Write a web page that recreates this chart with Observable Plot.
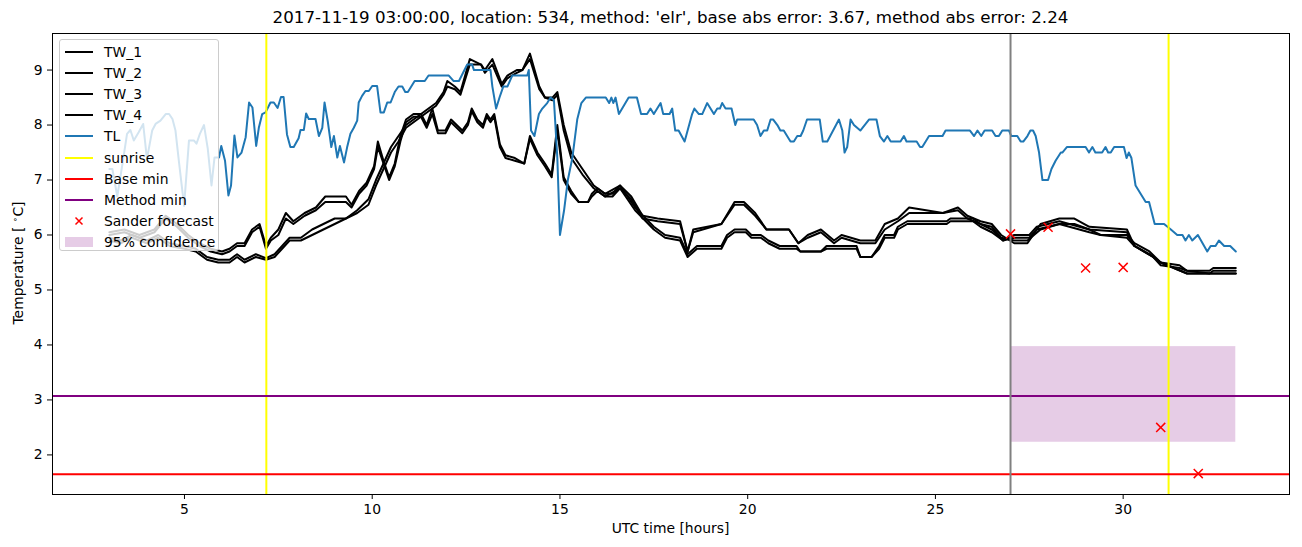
<!DOCTYPE html>
<html><head><meta charset="utf-8">
<script src="https://cdn.jsdelivr.net/npm/d3@7"></script>
<script src="https://cdn.jsdelivr.net/npm/@observablehq/plot@0.6"></script>
<style>
body{margin:0;background:#fff;font-family:"DejaVu Sans",sans-serif;color:#000;}
#wrap{position:relative;width:1302px;height:547px;overflow:hidden;}
#title{position:absolute;left:52px;width:1237px;top:7px;text-align:center;font-size:16.7px;white-space:nowrap;}
#xlabel{position:absolute;left:52px;width:1237px;top:520px;text-align:center;font-size:13.9px;}
#ylabel{position:absolute;left:18px;top:263px;font-size:13.9px;white-space:nowrap;transform:translate(-50%,-50%) rotate(-90deg);}
#legend{position:absolute;left:59px;top:39px;width:160px;height:212px;background:rgba(255,255,255,0.8);border:1px solid #cccccc;border-radius:3px;box-sizing:border-box;}
#legend .row{position:absolute;left:0;height:20px;font-size:13.9px;line-height:20px;}
#legend .row span{position:absolute;left:44px;white-space:nowrap;}
#legend svg{position:absolute;left:4px;top:0;}
</style></head><body>
<div id="wrap"><div id="chart"></div>
<div id="title">2017-11-19 03:00:00, location: 534, method: 'elr', base abs error: 3.67, method abs error: 2.24</div>
<div id="xlabel">UTC time [hours]</div>
<div id="ylabel">Temperature [ <sup style="font-size:0.65em">∘</sup>C]</div>
<div id="legend"></div>
</div>
<script>
// ---- data (hours, °C) ----
const TL = [[3.0,7.2],[3.08,7.2],[3.21,6.7],[3.35,7.3],[3.47,7.84],[3.56,7.91],[3.65,7.72],[3.78,7.87],[3.9,8.02],[4.0,7.38],[4.14,7.9],[4.23,8.02],[4.36,8.08],[4.5,8.2],[4.59,8.2],[4.68,8.11],[4.76,7.9],[4.85,7.35],[4.99,6.53],[5.12,7.72],[5.25,7.72],[5.32,7.66],[5.41,7.84],[5.52,8.0],[5.62,7.57],[5.72,6.9],[5.8,7.41],[5.92,7.41],[5.98,7.62],
[6.08,7.35],[6.17,6.72],[6.24,6.9],[6.33,7.81],[6.41,7.41],[6.52,7.5],[6.63,7.78],[6.72,8.41],[6.81,8.32],[6.91,7.62],[6.98,7.95],[7.07,8.2],[7.16,8.23],[7.29,8.41],[7.38,8.41],[7.48,8.31],[7.57,8.51],[7.64,8.51],[7.73,7.83],[7.82,7.6],[7.91,7.6],[8.04,7.76],[8.09,7.91],[8.18,7.91],[8.24,8.21],[8.31,8.11],[8.49,8.11],[8.58,7.8],[8.67,7.95],[8.73,8.41],[8.82,8.05],[8.91,7.6],[8.98,7.8],[9.07,7.41],[9.14,7.62],[9.25,7.32],[9.33,7.59],[9.42,7.84],[9.51,7.95],[9.6,8.08],[9.64,8.41],[9.73,8.53],[9.82,8.62],[9.91,8.62],[10.0,8.71],[10.13,8.71],[10.22,8.23],[10.31,8.23],[10.4,8.41],[10.49,8.41],[10.6,8.6],[10.7,8.7],[10.8,8.7],[10.88,8.6],[10.95,8.6],[11.04,8.7],[11.13,8.8],[11.4,8.8],[11.5,8.9],[12.04,8.9],[12.17,8.8],[12.31,8.8],[12.53,9.1],[12.66,9.1],[12.71,9.0],[13.15,9.0],[13.2,8.7],[13.3,8.3],[13.39,8.5],[13.49,8.7],[13.6,8.7],[13.73,8.9],[14.13,8.9],[14.17,9.0],[14.23,7.9],[14.32,7.8],[14.44,8.2],[14.53,8.3],[14.66,8.4],[14.75,8.5],[14.84,8.45],[14.93,7.4],[15.0,6.0],[15.11,6.45],[15.21,7.0],[15.33,7.4],[15.46,8.1],[15.57,8.4],[15.69,8.5],[16.22,8.5],[16.31,8.4],[16.37,8.5],[16.42,8.4],[16.48,8.5],[16.57,8.2],[16.7,8.35],[16.83,8.5],[17.05,8.5],[17.16,8.2],[17.32,8.2],[17.41,8.3],[17.5,8.2],[17.68,8.4],[17.75,8.2],[17.92,8.2],[17.99,8.3],[18.07,7.9],[18.16,7.9],[18.32,7.7],[18.52,8.2],[18.58,8.3],[18.7,8.2],[18.79,8.2],[18.92,8.4],[19.01,8.3],[19.1,8.2],[19.19,8.3],[19.26,8.3],[19.32,8.4],[19.41,8.3],[19.57,8.3],[19.67,8.0],[19.72,8.1],[20.16,8.1],[20.25,8.0],[20.34,7.8],[20.43,7.9],[20.52,7.9],[20.61,8.1],[20.68,8.1],[20.79,8.0],[20.87,7.9],[20.96,7.9],[21.05,7.8],[21.14,7.7],[21.23,7.7],[21.32,7.8],[21.41,7.8],[21.48,7.9],[21.58,8.1],[21.92,8.1],[22.0,7.7],[22.12,7.7],[22.43,8.1],[22.52,7.9],[22.58,7.5],[22.65,7.6],[22.74,8.1],[22.83,8.0],[23.0,7.9],[23.23,8.1],[23.43,8.1],[23.52,7.8],[23.63,7.7],[23.72,7.8],[23.81,7.7],[24.07,7.7],[24.16,7.8],[24.23,7.7],[24.5,7.7],[24.59,7.6],[24.65,7.6],[24.83,7.8],[25.19,7.8],[25.27,7.9],[25.92,7.9],[26.03,7.8],[26.12,7.9],[26.22,7.8],[26.31,7.9],[26.51,7.9],[26.6,7.8],[26.69,7.8],[26.78,7.9],[26.96,7.9],[27.02,7.8],[27.18,7.8],[27.27,7.7],[27.34,7.7],[27.45,7.8],[27.53,7.9],[27.6,7.9],[27.67,7.8],[27.76,7.5],[27.85,7.0],[28.0,7.0],[28.09,7.2],[28.2,7.35],[28.34,7.5],[28.38,7.5],[28.5,7.6],[29.0,7.6],[29.09,7.5],[29.18,7.6],[29.26,7.5],[29.44,7.5],[29.53,7.6],[29.6,7.5],[29.67,7.5],[29.76,7.6],[30.02,7.6],[30.09,7.4],[30.15,7.5],[30.22,7.4],[30.33,6.9],[30.51,6.7],[30.6,6.6],[30.69,6.6],[30.84,6.2],[31.09,6.2],[31.27,6.1],[31.44,6.0],[31.58,6.0],[31.66,5.9],[31.75,6.0],[31.84,5.9],[31.99,6.0],[32.24,5.7],[32.33,5.8],[32.46,5.8],[32.55,5.9],[32.69,5.8],[32.85,5.8],[33.0,5.7]];

const TW_1 = [[3.0,5.95],[3.3,5.9],[3.6,6.0],[4.0,5.9],[4.3,6.0],[4.6,5.85],[5.0,5.8],[5.3,5.75],[5.6,5.6],[5.9,5.55],[6.2,5.55],[6.4,5.65],[6.6,5.55],[6.9,5.65],[7.17,5.58],[7.4,5.65],[7.6,5.8],[7.8,5.95],[8.1,5.95],[8.4,6.1],[8.7,6.2],[9.0,6.3],[9.3,6.3],[9.6,6.45],[9.9,6.65],[10.1,7.0],[10.3,7.3],[10.5,7.6],[10.7,7.8],[10.9,8.0],[11.1,8.1],[11.3,8.2],[11.5,8.3],[11.7,8.4],[11.9,8.6],[12.0,8.8],[12.2,8.7],[12.35,8.6],[12.6,9.2],[12.9,9.1],[13.0,9.0],[13.2,9.2],[13.45,8.75],[13.6,8.9],[13.85,9.0],[14.0,9.0],[14.2,9.3],[14.45,8.7],[14.6,8.5],[14.8,8.5],[14.93,8.6],[15.1,8.0],[15.3,7.5],[15.6,7.2],[15.9,6.9],[16.2,6.75],[16.6,6.9],[16.9,6.7],[17.2,6.35],[17.6,6.3],[18.2,6.25],[18.4,5.7],[18.55,6.1],[19.3,6.2],[19.65,6.6],[19.9,6.6],[20.2,6.4],[20.5,6.1],[21.1,6.1],[21.35,5.85],[21.6,6.0],[21.95,6.1],[22.3,5.9],[22.5,6.0],[23.0,5.9],[23.4,5.9],[23.65,6.2],[24.0,6.3],[24.3,6.5],[25.2,6.4],[25.6,6.5],[25.85,6.35],[26.2,6.25],[26.5,6.2],[26.75,6.0],[27.1,5.85],[27.45,5.85],[27.8,6.2],[28.3,6.3],[28.7,6.3],[29.1,6.15],[30.1,6.1],[30.3,5.8],[30.8,5.6],[31.0,5.5],[31.5,5.45],[31.7,5.35],[32.3,5.35],[32.4,5.4],[33.0,5.4]];

const TW_2 = [[3.0,5.9],[3.3,5.85],[3.6,5.95],[4.0,5.85],[4.3,5.95],[4.6,5.8],[5.0,5.75],[5.3,5.7],[5.6,5.55],[5.9,5.5],[6.2,5.5],[6.4,5.6],[6.6,5.5],[6.9,5.6],[7.17,5.55],[7.4,5.6],[7.6,5.75],[7.8,5.9],[8.1,5.9],[8.4,6.0],[8.7,6.1],[9.0,6.2],[9.3,6.3],[9.6,6.4],[9.9,6.55],[10.1,6.9],[10.3,7.2],[10.5,7.5],[10.7,7.7],[10.9,7.95],[11.1,8.05],[11.3,8.15],[11.5,8.25],[11.7,8.35],[11.9,8.55],[12.0,8.7],[12.2,8.65],[12.35,8.55],[12.6,9.1],[12.9,9.1],[13.0,8.95],[13.2,9.1],[13.45,8.7],[13.6,8.85],[13.85,8.95],[14.0,9.0],[14.2,9.2],[14.45,8.65],[14.6,8.5],[14.8,8.45],[14.93,8.55],[15.1,7.9],[15.3,7.4],[15.6,7.1],[15.9,6.85],[16.2,6.7],[16.6,6.85],[16.9,6.65],[17.2,6.3],[17.6,6.25],[18.2,6.2],[18.4,5.7],[18.55,6.05],[19.3,6.2],[19.65,6.55],[19.9,6.55],[20.2,6.35],[20.5,6.1],[21.1,6.1],[21.35,5.85],[21.6,5.95],[21.95,6.05],[22.3,5.85],[22.5,5.95],[23.0,5.85],[23.4,5.85],[23.65,6.1],[24.0,6.25],[24.3,6.4],[25.2,6.4],[25.6,6.45],[25.85,6.3],[26.2,6.2],[26.5,6.15],[26.75,5.95],[27.1,5.9],[27.45,5.9],[27.8,6.1],[28.3,6.2],[28.7,6.2],[29.1,6.1],[30.1,6.05],[30.3,5.8],[30.8,5.6],[31.0,5.45],[31.5,5.4],[31.7,5.35],[32.3,5.3],[32.4,5.35],[33.0,5.35]];

const TW_3 = [[3.0,6.05],[3.4,6.1],[3.8,6.0],[4.2,6.1],[4.5,6.35],[4.8,6.2],[5.1,6.0],[5.4,5.85],[5.7,5.75],[6.0,5.7],[6.2,5.75],[6.4,5.85],[6.6,5.85],[6.8,6.1],[7.0,6.2],[7.17,5.8],[7.3,5.95],[7.5,6.1],[7.7,6.4],[7.9,6.25],[8.2,6.4],[8.5,6.5],[8.75,6.7],[9.3,6.7],[9.45,6.55],[9.65,6.8],[9.85,6.95],[10.05,7.25],[10.15,7.7],[10.3,7.35],[10.45,7.05],[10.6,7.3],[10.75,7.8],[10.9,8.1],[11.1,8.2],[11.3,8.2],[11.45,8.0],[11.6,8.3],[11.75,7.9],[11.95,7.9],[12.1,8.1],[12.4,7.9],[12.55,8.05],[12.65,8.3],[12.8,8.1],[12.95,8.0],[13.05,8.2],[13.15,8.1],[13.25,8.2],[13.4,7.65],[13.55,7.45],[13.8,7.4],[14.05,7.3],[14.2,7.8],[14.4,7.5],[14.6,7.3],[14.78,7.1],[14.93,8.0],[15.1,7.05],[15.3,6.8],[15.5,6.6],[15.75,6.6],[15.85,6.75],[16.0,6.85],[16.2,6.75],[16.4,6.75],[16.6,6.9],[16.8,6.7],[17.0,6.5],[17.5,6.15],[17.8,6.0],[18.2,5.95],[18.4,5.65],[18.65,5.8],[19.3,5.8],[19.45,6.0],[19.65,6.1],[19.95,6.1],[20.1,6.0],[20.35,6.0],[20.55,5.9],[20.85,5.8],[21.3,5.8],[21.4,5.7],[21.95,5.7],[22.1,5.8],[22.9,5.8],[23.0,5.6],[23.3,5.6],[23.5,5.8],[23.65,6.0],[23.9,6.0],[24.0,6.15],[24.25,6.25],[25.3,6.25],[25.4,6.3],[26.0,6.3],[26.2,6.2],[26.5,6.1],[26.8,5.9],[27.1,6.0],[27.5,6.0],[27.7,6.15],[28.3,6.25],[29.1,6.1],[29.4,6.0],[30.1,6.0],[30.3,5.85],[30.7,5.7],[31.0,5.5],[31.7,5.3],[33.0,5.3]];

const TW_4 = [[3.0,6.0],[3.4,6.05],[3.8,5.95],[4.2,6.05],[4.5,6.3],[4.8,6.15],[5.1,5.95],[5.4,5.8],[5.7,5.7],[6.0,5.65],[6.2,5.7],[6.4,5.8],[6.6,5.8],[6.8,6.05],[7.0,6.15],[7.17,5.75],[7.3,5.9],[7.5,6.0],[7.7,6.3],[7.9,6.2],[8.2,6.35],[8.5,6.45],[8.75,6.6],[9.3,6.6],[9.45,6.5],[9.65,6.75],[9.85,6.9],[10.05,7.2],[10.15,7.6],[10.3,7.3],[10.45,7.0],[10.6,7.25],[10.75,7.7],[10.9,8.05],[11.1,8.15],[11.3,8.15],[11.45,7.95],[11.6,8.2],[11.75,7.85],[11.95,7.85],[12.1,8.05],[12.4,7.85],[12.55,8.0],[12.65,8.25],[12.8,8.05],[12.95,7.95],[13.05,8.15],[13.15,8.05],[13.25,8.15],[13.4,7.6],[13.55,7.4],[13.8,7.35],[14.05,7.3],[14.2,7.75],[14.4,7.45],[14.6,7.25],[14.78,7.05],[14.93,7.9],[15.1,7.0],[15.3,6.75],[15.5,6.6],[15.75,6.6],[15.85,6.7],[16.0,6.8],[16.2,6.7],[16.4,6.7],[16.6,6.85],[16.8,6.65],[17.0,6.45],[17.5,6.1],[17.8,5.95],[18.2,5.9],[18.4,5.6],[18.65,5.75],[19.3,5.75],[19.45,5.95],[19.65,6.05],[19.95,6.05],[20.1,5.95],[20.35,5.95],[20.55,5.85],[20.85,5.75],[21.3,5.75],[21.4,5.7],[21.95,5.7],[22.1,5.75],[22.9,5.75],[23.0,5.6],[23.3,5.6],[23.5,5.75],[23.65,5.95],[23.9,5.95],[24.0,6.1],[24.25,6.2],[25.3,6.2],[25.4,6.25],[26.0,6.25],[26.2,6.15],[26.5,6.05],[26.8,5.9],[27.1,5.95],[27.5,5.95],[27.7,6.1],[28.3,6.2],[29.1,6.05],[29.4,6.0],[30.1,5.95],[30.3,5.8],[30.7,5.65],[31.0,5.5],[31.7,5.3],[33.0,5.3]];

const sunrise = [7.18, 31.21];
const forecastStart = [27.0];
const baseMin = [1.65];
const methodMin = [3.07];
const sanderHours = [27, 28, 29, 30, 31, 32];
const sanderTemps = [6.02, 6.14, 5.40, 5.41, 2.50, 1.66];
const confidence = [{x1: 27, x2: 33, lo: 2.23, hi: 3.97}];
const xTicks = [5, 10, 15, 20, 25, 30];
const yTicks = [2, 3, 4, 5, 6, 7, 8, 9];

const sander = sanderHours.map((h, i) => ({h, t: sanderTemps[i]}));
const lineOpts = {x: d => d[0], y: d => d[1], strokeWidth: 2};

const chart = Plot.plot({
  width: 1302, height: 547,
  marginLeft: 52, marginRight: 13, marginTop: 33, marginBottom: 53,
  style: {fontFamily: "DejaVu Sans", fontSize: "13.9px", color: "black", background: "white"},
  x: {domain: [1.485, 34.43], ticks: xTicks, tickSize: 5, tickPadding: 5, label: null, tickFormat: d => String(d)},
  y: {domain: [1.28, 9.665], ticks: yTicks, tickSize: 5, tickPadding: 5, label: null, tickFormat: d => String(d)},
  marks: [
    Plot.rect(confidence, {x1: "x1", x2: "x2", y1: "lo", y2: "hi", fill: "purple", fillOpacity: 0.2}),
    Plot.line(TW_1, {...lineOpts, stroke: "black"}),
    Plot.line(TW_2, {...lineOpts, stroke: "black"}),
    Plot.line(TW_3, {...lineOpts, stroke: "black"}),
    Plot.line(TW_4, {...lineOpts, stroke: "black"}),
    Plot.line(TL, {...lineOpts, stroke: "#1f77b4"}),
    Plot.ruleX(sunrise, {stroke: "yellow", strokeWidth: 2}),
    Plot.ruleY(baseMin, {stroke: "red", strokeWidth: 2}),
    Plot.ruleY(methodMin, {stroke: "purple", strokeWidth: 2}),
    Plot.ruleX(forecastStart, {stroke: "gray", strokeWidth: 2}),
    Plot.dot(sander, {x: "h", y: "t", symbol: "times", r: 4.2, stroke: "red", strokeWidth: 1.5}),
    Plot.frame({stroke: "black", strokeWidth: 1})
  ]
});
document.getElementById("chart").appendChild(chart);

// legend
const legendItems = [
  {label: "TW_1", type: "line", color: "black"},
  {label: "TW_2", type: "line", color: "black"},
  {label: "TW_3", type: "line", color: "black"},
  {label: "TW_4", type: "line", color: "black"},
  {label: "TL", type: "line", color: "#1f77b4"},
  {label: "sunrise", type: "line", color: "yellow"},
  {label: "Base min", type: "line", color: "red"},
  {label: "Method min", type: "line", color: "purple"},
  {label: "Sander forecast", type: "x", color: "red"},
  {label: "95% confidence", type: "patch", color: "rgba(128,0,128,0.2)"}
];
const leg = document.getElementById("legend");
legendItems.forEach((it, i) => {
  const row = document.createElement("div");
  row.className = "row";
  row.style.top = (2 + i * 21.1) + "px";
  let handle;
  if (it.type === "line") handle = `<line x1="1" x2="29" y1="10" y2="10" stroke="${it.color}" stroke-width="2"/>`;
  else if (it.type === "x") handle = `<path d="M11.5,6.5L18.5,13.5M11.5,13.5L18.5,6.5" stroke="${it.color}" stroke-width="1.5"/>`;
  else handle = `<rect x="1" y="5" width="28" height="10" fill="${it.color}"/>`;
  row.innerHTML = `<svg width="30" height="20">${handle}</svg><span>${it.label}</span>`;
  leg.appendChild(row);
});
</script>
</body></html>
